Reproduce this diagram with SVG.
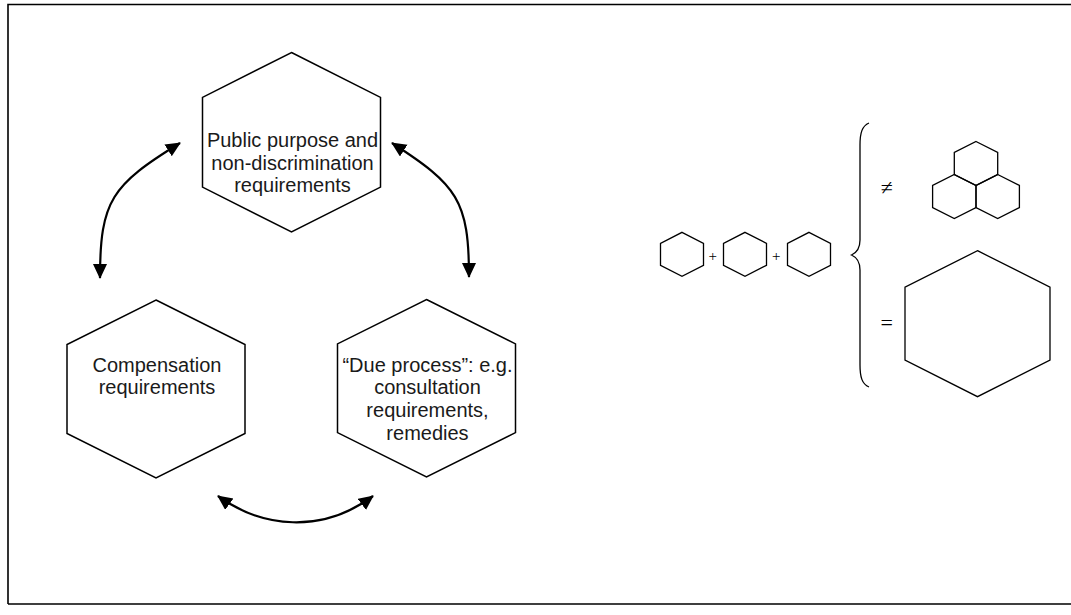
<svg xmlns="http://www.w3.org/2000/svg" width="1071" height="615" viewBox="0 0 1071 615">
<style>
.hex{fill:#fff;stroke:#000;stroke-width:1.5}
.shex{fill:none;stroke:#000;stroke-width:1.3}
.lbl{font-family:"Liberation Sans",Arial,sans-serif;font-size:20px;fill:#1a1a1a;text-anchor:middle}
.sym{font-family:"Liberation Serif","Times New Roman",serif;fill:#000;text-anchor:middle}
.conn{fill:none;stroke:#000;stroke-width:2.2;marker-start:url(#ah);marker-end:url(#ah)}
</style>
<defs>
<marker id="ah" markerUnits="userSpaceOnUse" markerWidth="16" markerHeight="16" refX="14" refY="7" orient="auto-start-reverse">
<path d="M0,0 L15,7 L0,14 z" fill="#000"/>
</marker>
</defs>
<rect x="0" y="0" width="1071" height="615" fill="#fff"/>
<path d="M8,604 L8,4.5 L1075,4.5 M8,604 L1075,604" fill="none" stroke="#000" stroke-width="1.6"/>

<g id="node-public-purpose">
<polygon class="hex" points="291.5,52.5 380.5,97.4 380.5,187.1 291.5,232 202.5,187.1 202.5,97.4"/>
<text class="lbl" x="292.5" y="147">Public purpose and</text>
<text class="lbl" x="292.5" y="169.5">non-discrimination</text>
<text class="lbl" x="292.5" y="191.5">requirements</text>
</g>

<g id="node-compensation">
<polygon class="hex" points="156,300 245,344.5 245,433.5 156,478 67,433.5 67,344.5"/>
<text class="lbl" x="157" y="371.7">Compensation</text>
<text class="lbl" x="157" y="393.7">requirements</text>
</g>

<g id="node-due-process">
<polygon class="hex" points="426.5,299.5 515.5,343.9 515.5,432.6 426.5,477 337.5,432.6 337.5,343.9"/>
<text class="lbl" x="427.5" y="371.7">“Due process”: e.g.</text>
<text class="lbl" x="427.5" y="394.3">consultation</text>
<text class="lbl" x="427.5" y="417">requirements,</text>
<text class="lbl" x="427.5" y="439.6">remedies</text>
</g>

<g id="connectors">
<path class="conn" d="M100,278 C100,200 112,185 180,143"/>
<path class="conn" d="M469,277 C469,200 457,185 392,143"/>
<path class="conn" d="M218,496 C262,528 322,534 373,496"/>
</g>

<g id="equation">
<polygon class="shex" points="682,232.3 703.5,243.3 703.5,265.3 682,276.3 660.5,265.3 660.5,243.3"/>
<polygon class="shex" points="745,232.3 766.5,243.3 766.5,265.3 745,276.3 723.5,265.3 723.5,243.3"/>
<polygon class="shex" points="809,232.3 830.5,243.3 830.5,265.3 809,276.3 787.5,265.3 787.5,243.3"/>
<text class="sym" x="712.7" y="260.5" font-size="15">+</text>
<text class="sym" x="776.3" y="260.5" font-size="15">+</text>
<path d="M869,123 C862,126 860,133 860,145 L860,240 C860,249 856,253 851.5,255 C856,257 860,261 860,270 L860,365 C860,377 862,384 869,387" fill="none" stroke="#000" stroke-width="1.3"/>
<text class="sym" x="886.7" y="195" font-size="22">≠</text>
<text class="sym" x="886.7" y="330" font-size="22">=</text>
<polygon class="shex" points="976,141.5 997.7,152.5 997.7,174.5 976,185.5 954.3,174.5 954.3,152.5"/>
<polygon class="shex" points="954.3,174.5 976,185.5 976,207.5 954.3,218.5 932.6,207.5 932.6,185.5"/>
<polygon class="shex" points="997.7,174.5 1019.4,185.5 1019.4,207.5 997.7,218.5 976,207.5 976,185.5"/>
<polygon class="shex" points="977.5,250.7 1050,287.2 1050,360.2 977.5,396.7 905,360.2 905,287.2"/>
</g>
</svg>
